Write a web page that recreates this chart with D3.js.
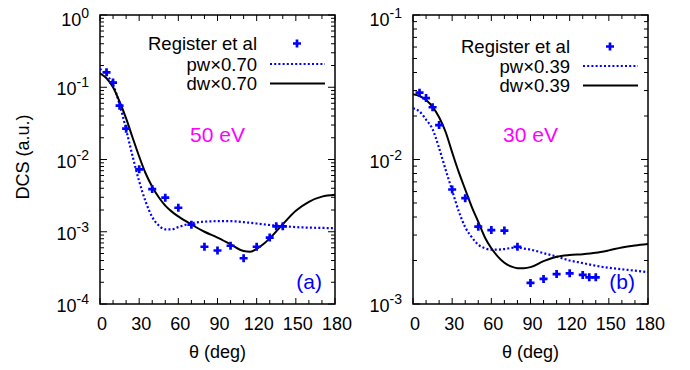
<!DOCTYPE html>
<html>
<head>
<meta charset="utf-8">
<title>DCS</title>
<style>
body { margin: 0; background: #fff; }
text { font-family: "Liberation Sans", Arial, sans-serif; }
</style>
</head>
<body>
<script src="https://cdn.jsdelivr.net/npm/d3@7/dist/d3.min.js"></script>
<script>

// measured points (Register et al), same angles in both panels
var regAngles = [5, 10, 15, 20, 30, 40, 50, 60, 70, 80, 90, 100, 110, 120, 130, 135, 140];
var reg50 = [0.161, 0.116, 0.0556, 0.0267, 0.0073, 0.0039, 0.00296, 0.00215, 0.00125,
             0.00062, 0.00055, 0.00064, 0.00043, 0.00062, 0.00083, 0.00119, 0.00119];
var reg30 = [0.0290, 0.0266, 0.0230, 0.0173, 0.0062, 0.0054, 0.00343, 0.00325, 0.00322,
             0.00249, 0.00140, 0.00149, 0.00161, 0.00163, 0.00159, 0.00153, 0.00153];

// calculated curves, 50 eV
var angles50 = [0, 5, 10, 15, 20, 25, 30, 35, 40, 45, 50, 55, 60, 70, 80, 90, 100, 110,
                115, 120, 125, 130, 140, 150, 160, 170, 180];
var pw50 = [0.18, 0.15, 0.108, 0.058, 0.026, 0.011, 0.005, 0.0026, 0.0016, 0.00122, 0.00108,
            0.00108, 0.00116, 0.00131, 0.00138, 0.0014, 0.0014, 0.00136, 0.00133, 0.0013,
            0.00127, 0.00124, 0.0012, 0.00116, 0.00114, 0.00113, 0.00112];
var dw50 = [0.156, 0.133, 0.1, 0.063, 0.037, 0.020, 0.011, 0.0064, 0.0042, 0.003, 0.0023,
            0.0019, 0.00163, 0.00126, 0.001, 0.00083, 0.00067, 0.00054, 0.00053, 0.00058,
            0.00067, 0.00081, 0.00127, 0.00195, 0.0026, 0.00306, 0.00325];

// calculated curves, 30 eV
var angles30 = [0, 5, 10, 15, 20, 25, 30, 35, 40, 45, 50, 55, 60, 65, 70, 75, 80, 85, 90,
                100, 110, 120, 130, 140, 150, 160, 170, 180];
var pw30 = [0.0226, 0.0215, 0.0189, 0.0162, 0.012, 0.0085, 0.0061, 0.0044, 0.0034, 0.0029,
            0.00257, 0.00243, 0.00238, 0.00238, 0.0024, 0.00244, 0.00246, 0.00242, 0.00238,
            0.00225, 0.00213, 0.002, 0.00192, 0.00184, 0.00178, 0.00174, 0.0017, 0.00166];
var dw30 = [0.0283, 0.0275, 0.0258, 0.0231, 0.0196, 0.0155, 0.0112, 0.0082, 0.0062, 0.0047,
            0.0037, 0.0029, 0.00243, 0.00213, 0.00193, 0.00182, 0.00177, 0.00177, 0.0018,
            0.00198, 0.00212, 0.00218, 0.00221, 0.00226, 0.00235, 0.00246, 0.00254, 0.0026];

var xTicks = [0, 30, 60, 90, 120, 150, 180];

var w = 690;
var h = 370;
var yTop = 15, yBottom = 304;
var blue = "#0000ff";

var svg = d3.select("body").append("svg")
    .attr("width", w)
    .attr("height", h);

function zip(xs, ys) {
    return xs.map(function(x, i) { return [x, ys[i]]; });
}

function drawPanel(p) {
    var x = d3.scaleLinear().domain([0, 180]).range([p.left, p.left + 235]);
    var y = d3.scaleLog().domain(p.yDomain).range([yBottom, yTop]);
    var right = p.left + 235;
    var g = svg.append("g");

    var clipId = "clip" + p.name;
    g.append("clipPath").attr("id", clipId)
        .append("rect")
        .attr("x", p.left).attr("y", yTop)
        .attr("width", 235).attr("height", yBottom - yTop);

    // x ticks, bottom and top
    d3.range(0, 181, 10).forEach(function(v) {
        var len = (v % 30 === 0) ? 6 : 4;
        g.append("line").attr("x1", x(v)).attr("x2", x(v))
            .attr("y1", yBottom).attr("y2", yBottom - len)
            .attr("stroke", "#000").attr("stroke-width", 1);
        g.append("line").attr("x1", x(v)).attr("x2", x(v))
            .attr("y1", yTop).attr("y2", yTop + len)
            .attr("stroke", "#000").attr("stroke-width", 1);
    });

    // y ticks, left and right
    var lo = Math.round(Math.log10(p.yDomain[0]));
    var hi = Math.round(Math.log10(p.yDomain[1]));
    var decades = d3.range(lo, hi + 1);
    decades.forEach(function(d) {
        var ks = d < hi ? d3.range(1, 10) : [1];
        ks.forEach(function(k) {
            var v = k * Math.pow(10, d);
            var len = k === 1 ? 7 : 4;
            g.append("line").attr("x1", p.left).attr("x2", p.left + len)
                .attr("y1", y(v)).attr("y2", y(v))
                .attr("stroke", "#000").attr("stroke-width", 1);
            g.append("line").attr("x1", right).attr("x2", right - len)
                .attr("y1", y(v)).attr("y2", y(v))
                .attr("stroke", "#000").attr("stroke-width", 1);
        });
        var t = g.append("text")
            .attr("x", p.left - 11)
            .attr("y", Math.max(y(Math.pow(10, d)) + 8, 26))
            .attr("text-anchor", "end")
            .attr("font-size", "18px");
        t.append("tspan").text("10");
        t.append("tspan").attr("dy", -8).attr("font-size", "14px").text(d);
    });

    // x tick labels
    g.selectAll("text.xt").data(xTicks).enter().append("text")
        .attr("class", "xt")
        .attr("x", function(d) { return x(d) + 2; })
        .attr("y", 330)
        .attr("text-anchor", "middle")
        .attr("font-size", "18px")
        .text(function(d) { return d; });

    g.append("text")
        .attr("x", (p.left + right) / 2)
        .attr("y", 358)
        .attr("text-anchor", "middle")
        .attr("font-size", "18px")
        .text("θ (deg)");

    // frame
    g.append("rect")
        .attr("x", p.left).attr("y", yTop)
        .attr("width", 235).attr("height", yBottom - yTop)
        .attr("fill", "none").attr("stroke", "#000").attr("stroke-width", 1.5);

    var line = d3.line()
        .x(function(d) { return x(d[0]); })
        .y(function(d) { return y(d[1]); })
        .curve(d3.curveMonotoneX);

    var plot = g.append("g").attr("clip-path", "url(#" + clipId + ")");

    plot.append("path")
        .datum(zip(p.angles, p.pw))
        .attr("d", line)
        .attr("fill", "none")
        .attr("stroke", blue)
        .attr("stroke-width", 2.2)
        .attr("stroke-dasharray", "2,2.2");

    plot.append("path")
        .datum(zip(p.angles, p.dw))
        .attr("d", line)
        .attr("fill", "none")
        .attr("stroke", "#000")
        .attr("stroke-width", 2);

    var plus = "M-4,0H4M0,-4V4";
    plot.selectAll("path.pt")
        .data(zip(regAngles, p.reg))
        .enter()
        .append("path")
        .attr("class", "pt")
        .attr("d", plus)
        .attr("transform", function(d) { return "translate(" + x(d[0]) + "," + y(d[1]) + ")"; })
        .attr("stroke", blue)
        .attr("stroke-width", 2.7);

    // legend
    var tx = right - 78;
    var rows = p.legendRows;
    var labels = ["Register et al", "pw\u00d7" + p.factor, "dw\u00d7" + p.factor];
    labels.forEach(function(s, i) {
        g.append("text")
            .attr("x", tx).attr("y", rows[i])
            .attr("text-anchor", "end")
            .attr("font-size", "18.5px")
            .text(s);
    });
    g.append("path")
        .attr("d", plus)
        .attr("transform", "translate(" + (right - 38) + "," + (rows[0] - 6.5) + ")")
        .attr("stroke", blue).attr("stroke-width", 2.7);
    g.append("line")
        .attr("x1", right - 65).attr("x2", right - 10)
        .attr("y1", rows[1] - 6.5).attr("y2", rows[1] - 6.5)
        .attr("stroke", blue).attr("stroke-width", 2.2)
        .attr("stroke-dasharray", "2,2.2");
    g.append("line")
        .attr("x1", right - 65).attr("x2", right - 10)
        .attr("y1", rows[2] - 6.5).attr("y2", rows[2] - 6.5)
        .attr("stroke", "#000").attr("stroke-width", 2);

    g.append("text")
        .attr("x", (p.left + right) / 2)
        .attr("y", 141.5)
        .attr("text-anchor", "middle")
        .attr("font-size", "21px")
        .attr("fill", "#ff00ff")
        .text(p.energy);

    g.append("text")
        .attr("x", right - 13)
        .attr("y", 289)
        .attr("text-anchor", "end")
        .attr("font-size", "21px")
        .attr("fill", blue)
        .text(p.tag);
}

drawPanel({
    name: "a", left: 100, yDomain: [1e-4, 1],
    angles: angles50, pw: pw50, dw: dw50, reg: reg50,
    factor: "0.70", energy: "50 eV", tag: "(a)",
    legendRows: [50, 70.5, 90]
});

drawPanel({
    name: "b", left: 413, yDomain: [1e-3, 1e-1],
    angles: angles30, pw: pw30, dw: dw30, reg: reg30,
    factor: "0.39", energy: "30 eV", tag: "(b)",
    legendRows: [53, 72.5, 92]
});

svg.append("text")
    .attr("transform", "translate(28.5,157) rotate(-90)")
    .attr("text-anchor", "middle")
    .attr("font-size", "18px")
    .text("DCS (a.u.)");

</script>
</body>
</html>
